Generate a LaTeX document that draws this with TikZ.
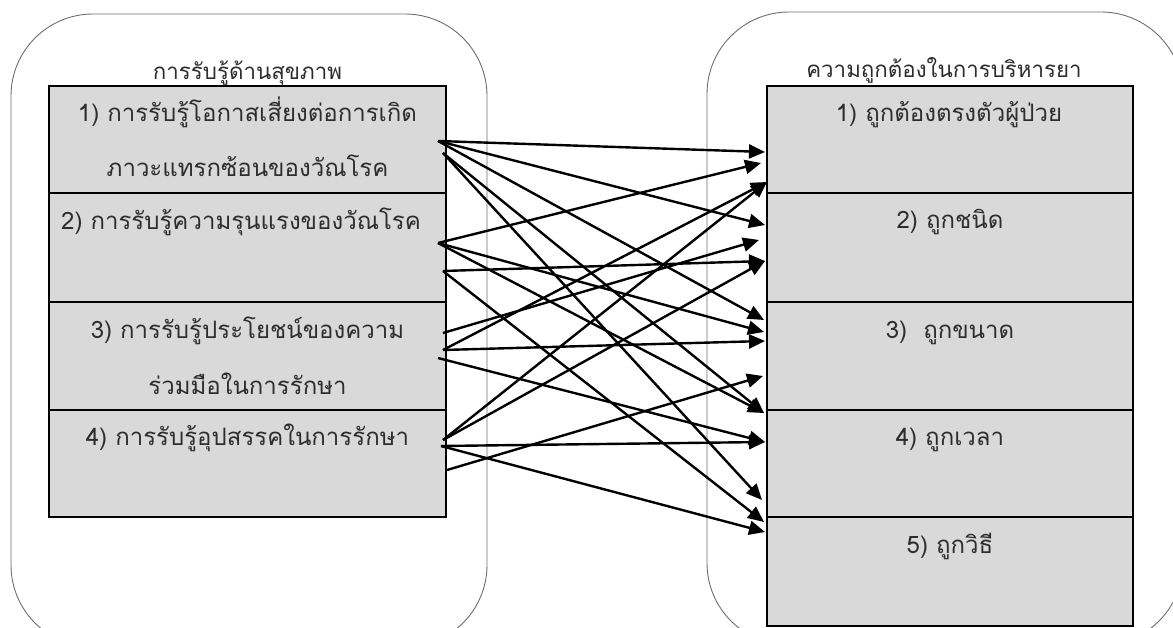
\documentclass[tikz,border=0pt]{standalone}
\usepackage{fontspec}
\newfontfamily\thai[Script=Thai]{Loma}
\usetikzlibrary{arrows.meta}
\definecolor{boxgray}{RGB}{217,217,217}
\definecolor{txt}{RGB}{45,45,45}
\definecolor{framegray}{RGB}{110,110,110}
\begin{document}
\begin{tikzpicture}[x=1pt,y=-1pt,
  frame/.style={draw=framegray,line width=0.9pt,rounded corners=82pt},
  box/.style={draw=black,fill=boxgray,line width=2pt,inner sep=0pt},
  lbox/.style={box,minimum width=397pt},
  rbox/.style={box,minimum width=366pt},
  lbl/.style={anchor=base,text=txt,inner sep=0pt,align=center,font=\thai\fontsize{24}{55}\selectfont},
  title/.style={anchor=base,text=txt,inner sep=0pt,font=\thai\fontsize{22.3}{25}\selectfont},
  arr/.style={line width=2.4pt,-{Triangle[length=16pt,width=14pt]}}]
\useasboundingbox (0,0) rectangle (1173,628);
\clip (0,0) rectangle (1173,628);
% outer rounded frames
\draw[frame] (11,14) rectangle (487,647);
\draw[frame] (707,12) rectangle (1183,645);
% left boxes
\node[lbox,minimum height=107pt] (L1) at (247.5,139.5) {};
\node[lbox,minimum height=109pt] (L2) at (247.5,247.5) {};
\node[lbox,minimum height=108pt] (L3) at (247.5,356) {};
\node[lbox,minimum height=107pt] (L4) at (247.5,463.5) {};
% right boxes
\node[rbox,minimum height=107pt] (R1) at (950,139.5) {};
\node[rbox,minimum height=109pt] (R2) at (950,247.5) {};
\node[rbox,minimum height=108pt] (R3) at (950,356) {};
\node[rbox,minimum height=107pt] (R4) at (950,463.5) {};
\node[rbox,minimum height=109pt] (R5) at (950,571.5) {};
% titles
\node[title] (LT) at (247.5,80) {การรับรู้ด้านสุขภาพ};
\node[title] (RT) at (944,78) {ความถูกต้องในการบริหารยา};
% labels (base anchor = baseline of last line)
\node[lbl] (L1t) at (247.5,177) {1) การรับรู้โอกาสเสี่ยงต่อการเกิด\\ภาวะแทรกซ้อนของวัณโรค};
\node[lbl] (L2t) at (241,230) {2) การรับรู้ความรุนแรงของวัณโรค};
\node[lbl] (L3t) at (247.5,394) {3) การรับรู้ประโยชน์ของความ\\ร่วมมือในการรักษา};
\node[lbl] (L4t) at (247.5,445) {4) การรับรู้อุปสรรคในการรักษา};
\node[lbl] (R1t) at (949,122) {1) ถูกต้องตรงตัวผู้ป่วย};
\node[lbl] (R2t) at (950,229) {2) ถูกชนิด};
\node[lbl] (R3t) at (950,339) {3)\ \ ถูกขนาด};
\node[lbl] (R4t) at (950,445) {4) ถูกเวลา};
\node[lbl] (R5t) at (950,553) {5) ถูกวิธี};
% start points
\coordinate (A) at (438,141);
\coordinate (B) at (443,153);
\coordinate (C) at (438,243);
\coordinate (D) at (443,271);
\coordinate (E) at (443,333);
\coordinate (F) at (443,350);
\coordinate (G) at (438,358);
\coordinate (H) at (443,440);
\coordinate (I) at (441,446);
\coordinate (J) at (447,470);
% end points
\coordinate (e1a) at (765,152);
\coordinate (e1b) at (761,163);
\coordinate (e1c) at (767,182);
\coordinate (e2a) at (765,225);
\coordinate (e2b) at (759,240);
\coordinate (e2c) at (765,261);
\coordinate (e3a) at (764,320);
\coordinate (e3b) at (764,332);
\coordinate (e3c) at (765,341);
\coordinate (e3d) at (763,376);
\coordinate (e4a) at (764,413);
\coordinate (e4b) at (765,442);
\coordinate (e4c) at (762,500);
\coordinate (e5a) at (764,522);
\coordinate (e5b) at (765,532);
% arrows
\draw[arr] (A) -- (e1a);
\draw[arr] (A) -- (e2a);
\draw[arr] (A) -- (e3a);
\draw[arr] (B) -- (e4a);
\draw[arr] (B) -- (e4c);
\draw[arr] (C) -- (e1b);
\draw[arr] (C) -- (e3b);
\draw[arr] (C) -- (e4a);
\draw[arr] (D) -- (e2c);
\draw[arr] (D) -- (e5a);
\draw[arr] (E) -- (e2b);
\draw[arr] (F) -- (e1c);
\draw[arr] (F) -- (e3c);
\draw[arr] (G) -- (e4b);
\draw[arr] (H) -- (e1c);
\draw[arr] (H) -- (e2c);
\draw[arr] (I) -- (e4b);
\draw[arr] (I) -- (e5b);
\draw[arr] (J) -- (e3d);
\end{tikzpicture}
\end{document}
